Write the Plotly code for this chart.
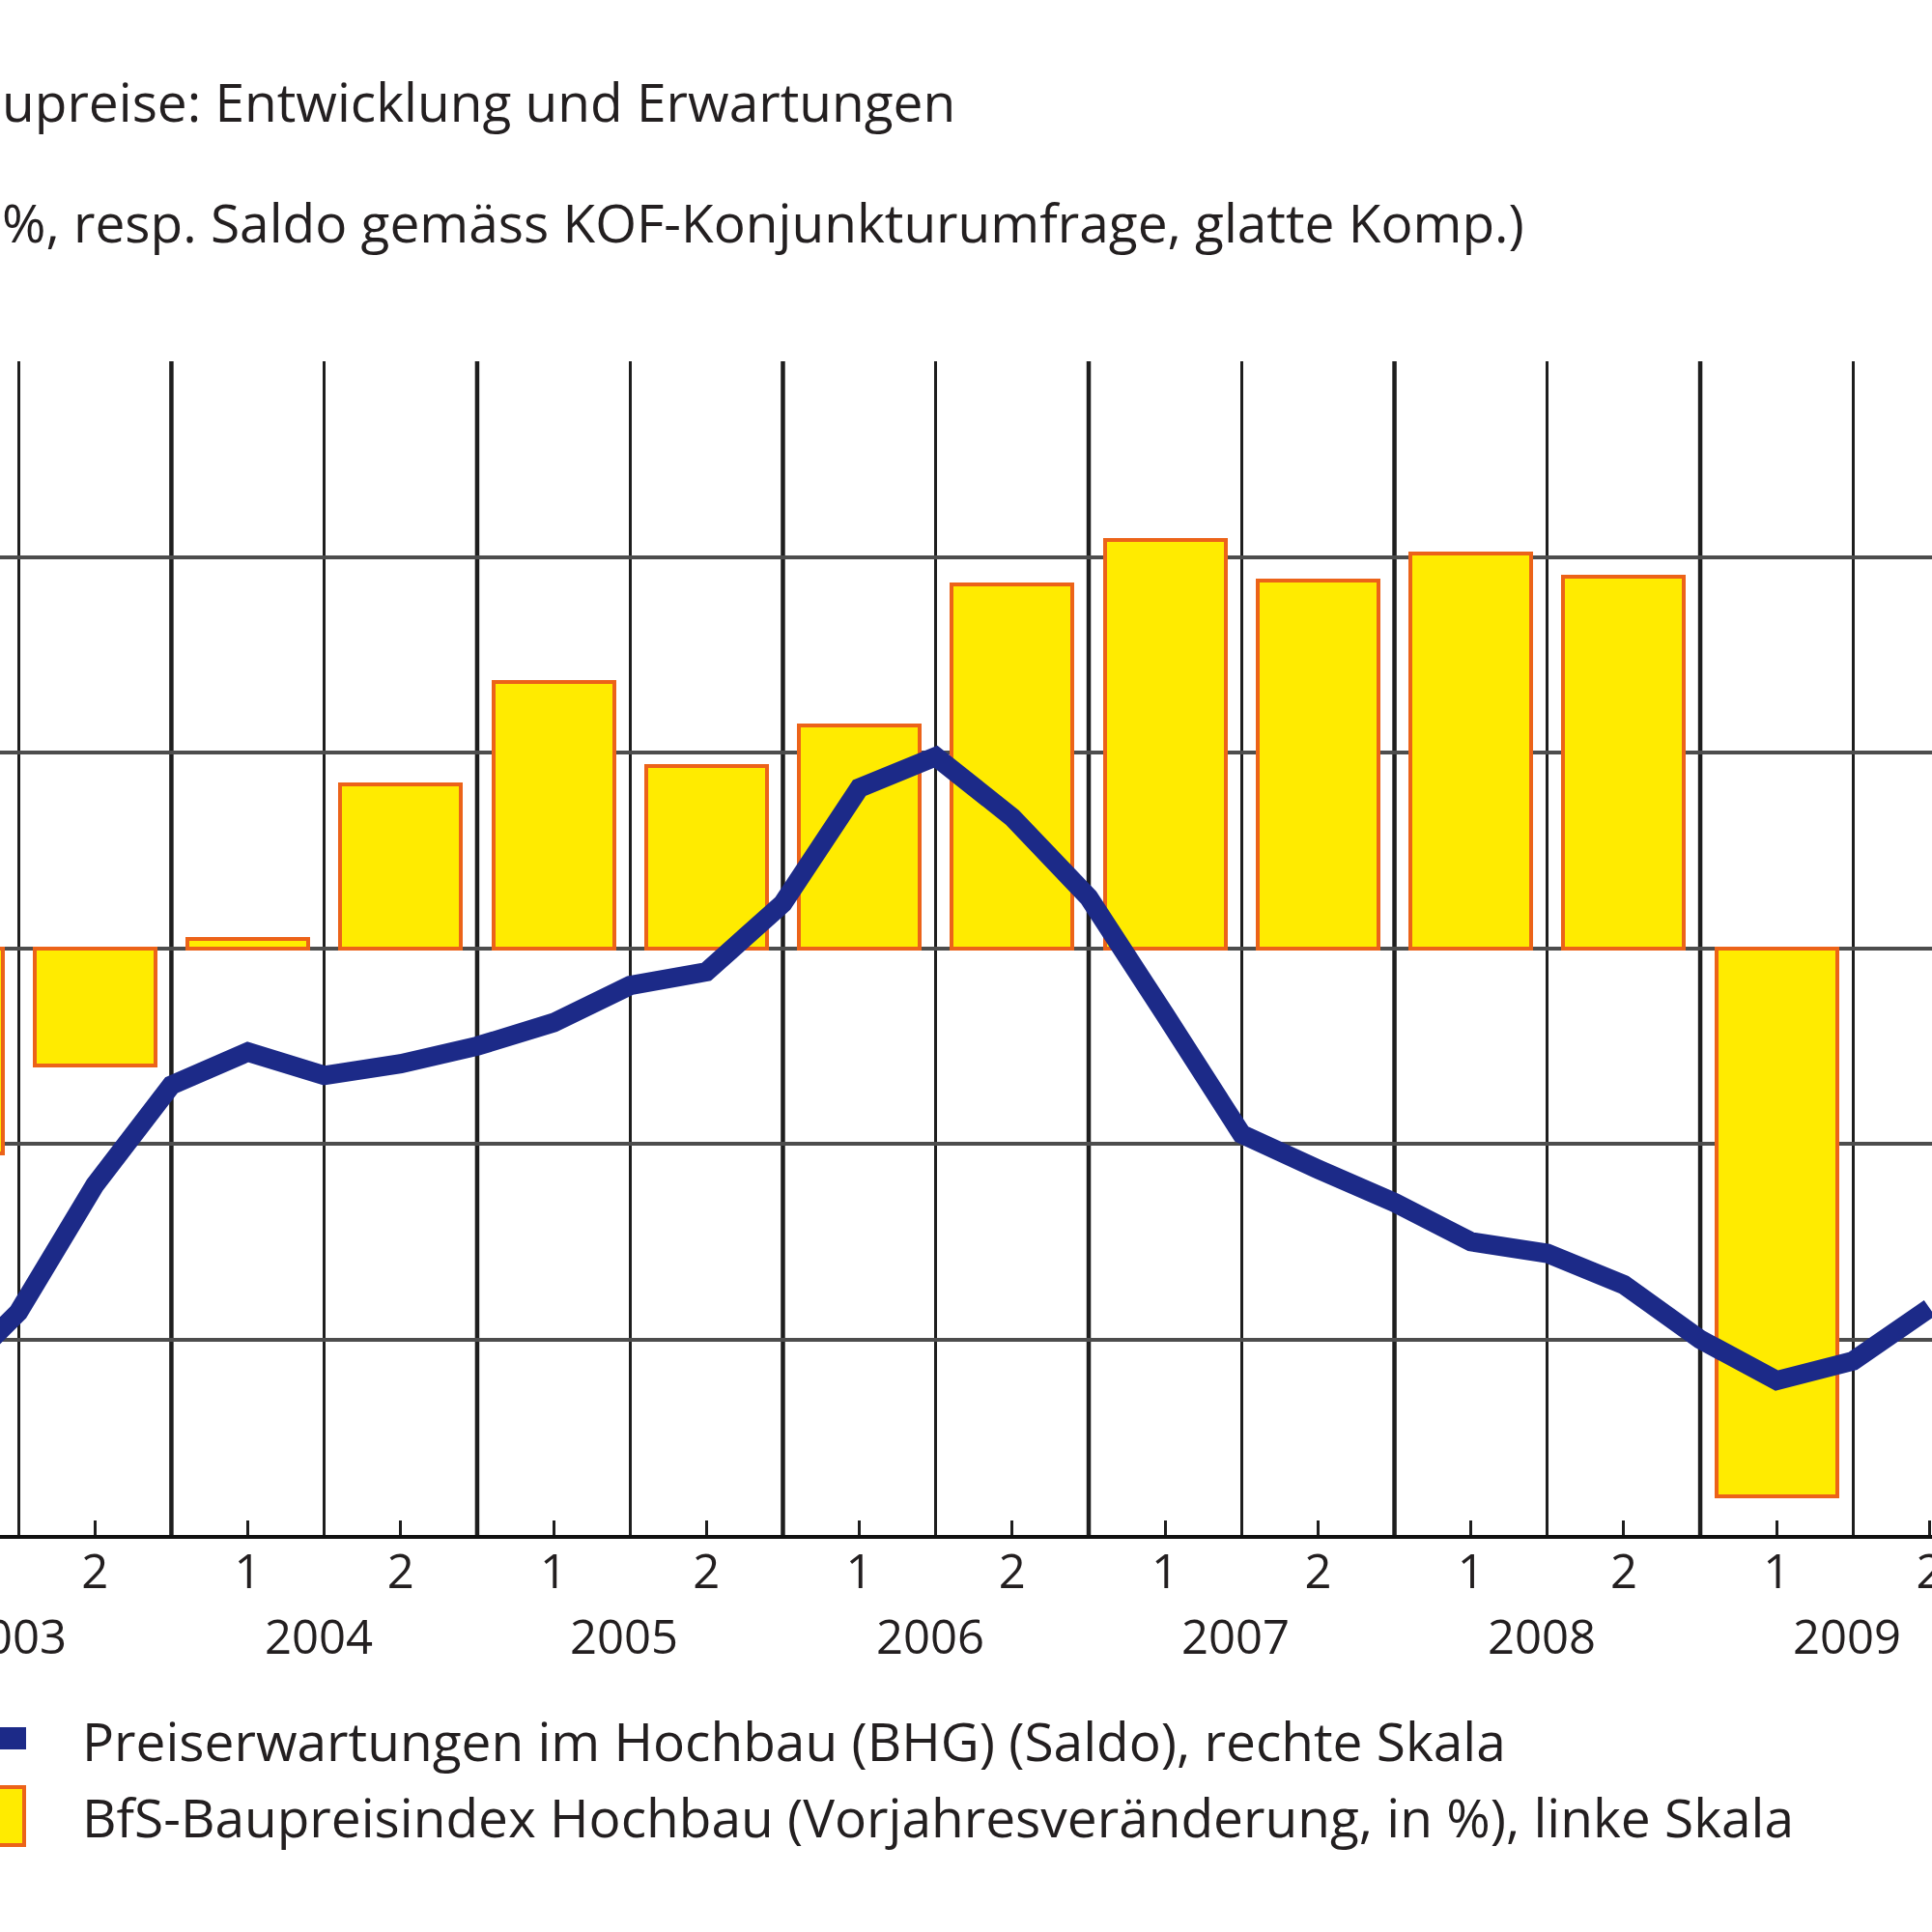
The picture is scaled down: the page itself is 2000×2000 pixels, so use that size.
import plotly.graph_objects as go

# ---------------- data ----------------
# x positions in half-years: 0 = 2003 H1, 1 = 2003 H2, ..., 13 = 2009 H2
bar_x = [0, 1, 2, 3, 4, 5, 6, 7, 8, 9, 10, 11, 12]
bar_values = [-1.05, -0.60, 0.05, 0.84, 1.36, 0.93, 1.14, 1.86, 2.09, 1.88, 2.02, 1.90, -2.80]

line_x = [0, 0.5, 1, 1.5, 2, 2.5, 3, 3.5, 4, 4.5, 5, 5.5, 6, 6.5,
          7, 7.5, 8, 8.5, 9, 9.5, 10, 10.5, 11, 11.5, 12, 12.5, 13]
line_values = [-22.5, -18.6, -12.1, -7.0, -5.3, -6.5, -5.9, -5.0, -3.8, -1.9,
               -1.2, 2.3, 8.2, 9.8, 6.7, 2.6, -3.4, -9.5, -11.3, -13.0,
               -15.0, -15.6, -17.2, -20.0, -22.1, -21.1, -18.4]

half_tick_vals = [1, 2, 3, 4, 5, 6, 7, 8, 9, 10, 11, 12, 13]
half_tick_text = ["2", "1", "2", "1", "2", "1", "2", "1", "2", "1", "2", "1", "2"]

half_boundaries = [0.5, 1.5, 2.5, 3.5, 4.5, 5.5, 6.5, 7.5, 8.5, 9.5, 10.5, 11.5, 12.5]
year_boundaries = [1.5, 3.5, 5.5, 7.5, 9.5, 11.5]
year_centers = [0.5, 2.5, 4.5, 6.5, 8.5, 10.5, 12.5]
year_labels = ["2003", "2004", "2005", "2006", "2007", "2008", "2009"]

title_1 = "upreise: Entwicklung und Erwartungen"
title_2 = "%, resp. Saldo gemäss KOF-Konjunkturumfrage, glatte Komp.)"
legend_line = "Preiserwartungen im Hochbau (BHG) (Saldo), rechte Skala"
legend_bar = "BfS-Baupreisindex Hochbau (Vorjahresveränderung, in %), linke Skala"

# ---------------- style ----------------
FONT = "Open Sans"
FS_TEXT = 55
FS_AXIS = 49
TXT = "#231f20"
NAVY = "#1c2a88"
YELLOW = "#ffeb00"
ORANGE = "#ec6319"
GRID_H = "#4d4d4d"
GRID_V = "#1e1e1e"

Y_BOTTOM = 1 - 1589 / 2000
Y_TOP = 1 - 374 / 2000

fig = go.Figure()

fig.add_trace(go.Bar(
    x=bar_x, y=bar_values, width=0.79,
    marker=dict(color=YELLOW, line=dict(color=ORANGE, width=4)),
    yaxis="y", showlegend=False,
))

fig.add_trace(go.Scatter(
    x=line_x, y=line_values, mode="lines",
    line=dict(color=NAVY, width=20, shape="linear"),
    yaxis="y2", showlegend=False,
))

shapes = []
for b in year_boundaries:
    shapes.append(dict(type="line", xref="x", yref="paper", x0=b, x1=b,
                       y0=Y_BOTTOM, y1=Y_TOP, layer="below",
                       line=dict(color=GRID_V, width=4.5)))

# legend swatches (cropped at the left edge as in the original)
shapes.append(dict(type="rect", xref="paper", yref="paper",
                   x0=-0.01, x1=0.0135, y0=1 - 1811 / 2000, y1=1 - 1788 / 2000,
                   fillcolor=NAVY, line=dict(width=0)))
shapes.append(dict(type="rect", xref="paper", yref="paper",
                   x0=-0.01, x1=0.0125, y0=1 - 1910 / 2000, y1=1 - 1850 / 2000,
                   fillcolor=YELLOW, line=dict(color=ORANGE, width=4)))

annotations = [
    dict(text=title_1, xref="paper", yref="paper", x=0, y=1 - 105 / 2000,
         xanchor="left", yanchor="middle", showarrow=False,
         font=dict(family=FONT, size=FS_TEXT, color=TXT)),
    dict(text=title_2, xref="paper", yref="paper", x=0, y=1 - 230 / 2000,
         xanchor="left", yanchor="middle", showarrow=False,
         font=dict(family=FONT, size=FS_TEXT, color=TXT)),
    dict(text=legend_line, xref="paper", yref="paper", x=83 / 2000, y=1 - 1801 / 2000,
         xanchor="left", yanchor="middle", showarrow=False,
         font=dict(family=FONT, size=FS_TEXT, color=TXT)),
    dict(text=legend_bar, xref="paper", yref="paper", x=83 / 2000, y=1 - 1880 / 2000,
         xanchor="left", yanchor="middle", showarrow=False,
         font=dict(family=FONT, size=FS_TEXT, color=TXT)),
]
for xc, lab in zip(year_centers, year_labels):
    annotations.append(dict(text=lab, xref="x", yref="paper", x=xc, y=1 - 1693 / 2000,
                            xanchor="center", yanchor="middle", showarrow=False, xshift=-6,
                            font=dict(family=FONT, size=FS_AXIS, color=TXT)))

fig.update_layout(
    width=2000, height=2000,
    margin=dict(l=0, r=0, t=0, b=0, autoexpand=False),
    paper_bgcolor="white", plot_bgcolor="white",
    bargap=0,
    xaxis=dict(
        domain=[0, 1], range=[0.379, 13.016],
        tickmode="array", tickvals=half_tick_vals, ticktext=half_tick_text,
        ticks="inside", ticklen=15, tickwidth=3, tickcolor=GRID_V,
        tickfont=dict(family=FONT, size=FS_AXIS, color=TXT),
        ticklabeloverflow="allow", ticklabelstandoff=-8,
        automargin=False,
        showgrid=False, zeroline=False,
        showline=True, linecolor="#111111", linewidth=4,
        minor=dict(tickmode="array", tickvals=half_boundaries, showgrid=True,
                   gridcolor=GRID_V, gridwidth=3, ticks="inside", ticklen=15,
                   tickwidth=3, tickcolor=GRID_V),
        anchor="y", fixedrange=True,
    ),
    yaxis=dict(
        domain=[Y_BOTTOM, Y_TOP], range=[-3, 3.002],
        tickmode="linear", tick0=0, dtick=1,
        showgrid=True, gridcolor=GRID_H, gridwidth=3.5,
        zeroline=False, showticklabels=False, ticks="", showline=False,
        automargin=False, fixedrange=True,
    ),
    yaxis2=dict(
        overlaying="y", side="right", range=[-30, 30.02],
        showgrid=False, zeroline=False, showticklabels=False, ticks="",
        showline=False, automargin=False, fixedrange=True,
    ),
    shapes=shapes,
    annotations=annotations,
    font=dict(family=FONT, size=FS_TEXT, color=TXT),
)

fig.write_html("out.html", config={"displayModeBar": False},
               post_script="document.body.style.margin='0px';")
